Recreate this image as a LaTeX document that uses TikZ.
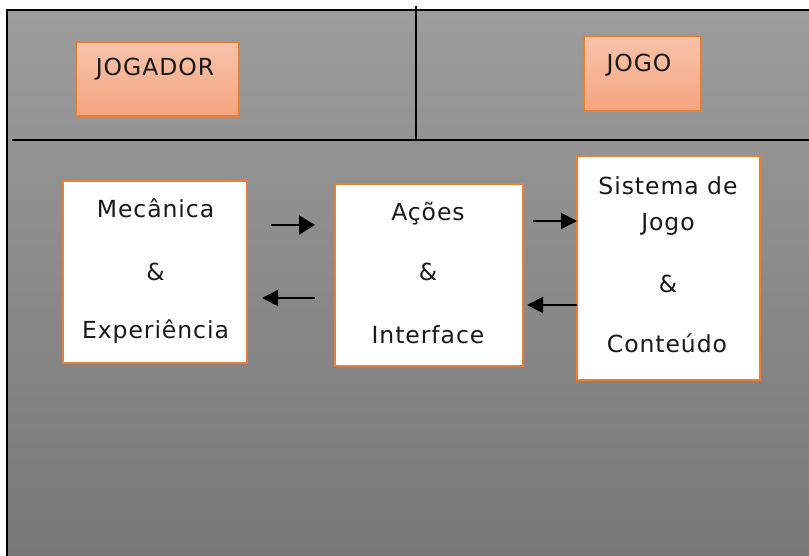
\documentclass[tikz,border=0pt]{standalone}
\usepackage{fontspec}
\setmainfont{DejaVu Sans}[LetterSpace=4]
\usetikzlibrary{arrows.meta}

\definecolor{bgtop}{RGB}{156,156,156}
\definecolor{bgbot}{RGB}{120,120,120}
\definecolor{accent}{RGB}{237,125,49}
\definecolor{peachtop}{RGB}{248,195,170}
\definecolor{peachbot}{RGB}{244,165,128}

\tikzset{
  panel/.style={draw=accent, line width=1.4pt, inner sep=0pt, outer sep=0pt, anchor=north west},
  role box/.style={panel, top color=peachtop, bottom color=peachbot},
  stage box/.style={panel, fill=white},
  caption/.style={font=\fontsize{23.5}{28}\selectfont, text=black!90, inner sep=0pt, anchor=base},
  flow/.style={-{Triangle[length=16pt,width=16pt]}, line width=2pt},
  wide flow/.style={-{Triangle[length=16pt,width=19pt]}, line width=2.4pt},
  frame line/.style={line width=2pt},
  divider/.style={line width=1.3pt}
}

\begin{document}
\begin{tikzpicture}[x=1pt,y=-1pt]
  \useasboundingbox (0,0) rectangle (809,556);
  \fill[white] (0,0) rectangle (809,556);

  % gradient backdrop and frame
  \shade[top color=bgtop, bottom color=bgbot] (7,10) rectangle (809,556);
  \draw[frame line] (7,556) -- (7,10) -- (809,10);
  \draw[divider] (416,6) -- (416,141);
  \draw[divider] (12,140) -- (809,140);

  % header labels
  \node[role box, minimum width=163pt, minimum height=74pt] (jogador) at (76,42) {};
  \node[caption] (jogadorT) at (155,76) {JOGADOR};
  \node[role box, minimum width=117pt, minimum height=75pt] (jogo) at (584,36) {};
  \node[caption] (jogoT) at (639,72) {JOGO};

  % stage boxes
  \node[stage box, minimum width=184pt, minimum height=182pt] (mec) at (63,181) {};
  \node[caption] (mec1) at (155.5,218) {Mecânica};
  \node[caption] (mec2) at (155.5,280) {\&};
  \node[caption] (mec3) at (155.5,338) {Experiência};

  \node[stage box, minimum width=188pt, minimum height=182pt] (acoes) at (335,184) {};
  \node[caption] (ac1) at (428,221) {Ações};
  \node[caption] (ac2) at (428,281) {\&};
  \node[caption] (ac3) at (428,343) {Interface};

  \node[stage box, minimum width=183pt, minimum height=224pt] (sis) at (577,156) {};
  \node[caption] (sis1) at (668,195) {Sistema de};
  \node[caption] (sis2) at (668,231) {Jogo};
  \node[caption] (sis3) at (668,292) {\&};
  \node[caption] (sis4) at (667,352) {Conteúdo};

  % flow arrows
  \coordinate (mecOutA) at (271,225);
  \coordinate (mecOutB) at (315,225);
  \coordinate (mecInA) at (315,298);
  \coordinate (mecInB) at (262,298);
  \draw[wide flow] (mecOutA) -- (mecOutB);
  \draw[flow] (mecInA) -- (mecInB);

  \coordinate (acOut) at (533,221);
  \coordinate (acIn) at (527,305);
  \draw[flow] (acOut) -- (acOut -| sis.west);
  \draw[flow] (acIn -| sis.west) -- (acIn);
\end{tikzpicture}
\end{document}
